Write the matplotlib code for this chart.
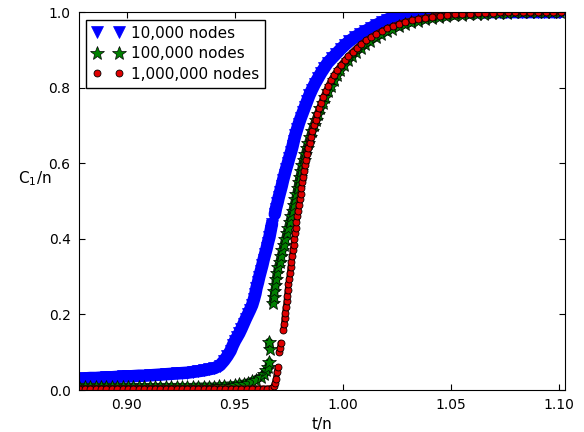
import numpy as np
import matplotlib
matplotlib.use('Agg')
import matplotlib.pyplot as plt

# values
x_10k = [0.8780, 0.8805, 0.8830, 0.8855, 0.8880, 0.8905, 0.8930, 0.8955, 0.8980, 0.9005,
         0.9030, 0.9055, 0.9080, 0.9105, 0.9130, 0.9155, 0.9180, 0.9205, 0.9230, 0.9255,
         0.9280, 0.9305, 0.9330, 0.9355, 0.9380, 0.9405,
         0.9430, 0.9450, 0.9465, 0.9480, 0.9490, 0.9500, 0.9510, 0.9520, 0.9530, 0.9540,
         0.9550, 0.9560, 0.9570, 0.9580, 0.9588, 0.9595, 0.9600, 0.9607, 0.9613, 0.9620,
         0.9627, 0.9633, 0.9640, 0.9647, 0.9653, 0.9660, 0.9665, 0.9670, 0.9672,
         0.9685, 0.9690, 0.9697, 0.9703, 0.9710, 0.9717, 0.9723, 0.9730, 0.9737,
         0.9745, 0.9752, 0.9760, 0.9767, 0.9773, 0.9780, 0.9788, 0.9796, 0.9805, 0.9815,
         0.9825, 0.9835, 0.9845, 0.9857, 0.9870, 0.9885, 0.9900, 0.9915, 0.9930, 0.9950,
         0.9970, 0.9990, 1.0010, 1.0030, 1.0055, 1.0080, 1.0105, 1.0130, 1.0155, 1.0180,
         1.0205, 1.0230, 1.0255, 1.0280, 1.0305,
         1.0330, 1.0355, 1.0380, 1.0405, 1.0430, 1.0455, 1.0480, 1.0505, 1.0530, 1.0555,
         1.0580, 1.0605, 1.0630, 1.0655, 1.0680, 1.0705, 1.0730, 1.0755, 1.0780, 1.0805,
         1.0830, 1.0855, 1.0880, 1.0905, 1.0930, 1.0955, 1.0980, 1.1005]
y_10k = [0.030, 0.031, 0.032, 0.032, 0.033, 0.034, 0.034, 0.035, 0.036, 0.036,
         0.037, 0.038, 0.038, 0.039, 0.040, 0.041, 0.042, 0.043, 0.044, 0.045,
         0.046, 0.048, 0.050, 0.052, 0.055, 0.058,
         0.065, 0.078, 0.090, 0.104, 0.118, 0.130, 0.140, 0.150, 0.162, 0.175,
         0.188, 0.200, 0.212, 0.225, 0.240, 0.255, 0.270, 0.285, 0.300, 0.315,
         0.330, 0.345, 0.360, 0.375, 0.390, 0.405, 0.420, 0.435, 0.440,
         0.465, 0.480, 0.495, 0.510, 0.525, 0.540, 0.555, 0.570, 0.585,
         0.600, 0.615, 0.630, 0.645, 0.660, 0.675, 0.690, 0.705, 0.720, 0.735,
         0.750, 0.765, 0.780, 0.795, 0.810, 0.825, 0.840, 0.853, 0.866, 0.878,
         0.890, 0.902, 0.913, 0.923, 0.933, 0.942, 0.950, 0.958, 0.966, 0.973,
         0.980, 0.986, 0.991, 0.995, 0.998,
         1.0, 1.0, 1.0, 1.0, 1.0, 1.0, 1.0, 1.0, 1.0, 1.0,
         1.0, 1.0, 1.0, 1.0, 1.0, 1.0, 1.0, 1.0, 1.0, 1.0,
         1.0, 1.0, 1.0, 1.0, 1.0, 1.0, 1.0, 1.0]

x_100k = [0.8780, 0.8805, 0.8830, 0.8855, 0.8880, 0.8905, 0.8930, 0.8955, 0.8980, 0.9005,
          0.9030, 0.9055, 0.9080, 0.9105, 0.9130, 0.9155, 0.9180, 0.9205, 0.9230, 0.9255,
          0.9280, 0.9305, 0.9330, 0.9355, 0.9380, 0.9405,
          0.9425, 0.9450, 0.9475, 0.9500, 0.9520, 0.9540, 0.9560, 0.9580, 0.9600, 0.9620,
          0.9635, 0.9645, 0.9655, 0.9660, 0.9662, 0.9658,
          0.9675, 0.9680, 0.9683, 0.9688, 0.9690, 0.9695, 0.9700, 0.9707, 0.9713, 0.9720,
          0.9727, 0.9733, 0.9740, 0.9747, 0.9753, 0.9760, 0.9767, 0.9773, 0.9780, 0.9785,
          0.9790, 0.9795, 0.9800, 0.9806, 0.9812, 0.9818, 0.9825, 0.9832, 0.9840, 0.9848,
          0.9856, 0.9865, 0.9874, 0.9884, 0.9895, 0.9906, 0.9918, 0.9930, 0.9943, 0.9957,
          0.9972, 0.9988, 1.0005, 1.0023, 1.0042, 1.0062, 1.0083, 1.0105, 1.0128, 1.0152,
          1.0177, 1.0203, 1.0230, 1.0258, 1.0287, 1.0317, 1.0348, 1.0380, 1.0412, 1.0445,
          1.0480, 1.0515, 1.0550, 1.0585, 1.0620, 1.0655, 1.0690, 1.0725, 1.0760, 1.0795,
          1.0830, 1.0865, 1.0900, 1.0935, 1.0970, 1.1005]
y_100k = [0.008, 0.008, 0.008, 0.008, 0.008, 0.008, 0.008, 0.008, 0.008, 0.008,
          0.008, 0.008, 0.008, 0.008, 0.008, 0.008, 0.008, 0.008, 0.008, 0.008,
          0.008, 0.008, 0.009, 0.009, 0.009, 0.009,
          0.010, 0.011, 0.012, 0.013, 0.015, 0.017, 0.020, 0.024, 0.028, 0.034,
          0.042, 0.052, 0.062, 0.074, 0.110, 0.127,
          0.230, 0.246, 0.262, 0.278, 0.295, 0.310, 0.325, 0.340, 0.355, 0.370,
          0.385, 0.400, 0.415, 0.430, 0.445, 0.460, 0.475, 0.490, 0.505, 0.520,
          0.535, 0.550, 0.565, 0.580, 0.595, 0.610, 0.625, 0.640, 0.655, 0.670,
          0.685, 0.700, 0.715, 0.730, 0.745, 0.760, 0.775, 0.790, 0.805, 0.820,
          0.834, 0.847, 0.860, 0.872, 0.884, 0.895, 0.905, 0.915, 0.924, 0.933,
          0.941, 0.949, 0.956, 0.962, 0.968, 0.973, 0.977, 0.981, 0.984, 0.987,
          0.989, 0.991, 0.993, 0.994, 0.995, 0.996, 0.997, 0.998, 0.998, 0.999,
          0.999, 1.0, 1.0, 1.0, 1.0, 1.0]

x_1m = [0.8780, 0.8805, 0.8830, 0.8855, 0.8880, 0.8905, 0.8930, 0.8955, 0.8980, 0.9005,
        0.9030, 0.9055, 0.9080, 0.9105, 0.9130, 0.9155, 0.9180, 0.9205, 0.9230, 0.9255,
        0.9280, 0.9305, 0.9330, 0.9355, 0.9380, 0.9405, 0.9430, 0.9455, 0.9480, 0.9505,
        0.9530, 0.9555, 0.9580, 0.9605, 0.9630, 0.9650,
        0.9670, 0.9680, 0.9685, 0.9690, 0.9695, 0.9698,
        0.9705, 0.9710, 0.9712,
        0.9725, 0.9728, 0.9730, 0.9733, 0.9736, 0.9740, 0.9742, 0.9745, 0.9748, 0.9752,
        0.9755, 0.9758, 0.9762, 0.9765, 0.9768, 0.9772, 0.9775, 0.9778, 0.9782, 0.9785,
        0.9789, 0.9792, 0.9796, 0.9800, 0.9804, 0.9808, 0.9812, 0.9816, 0.9820, 0.9825,
        0.9830, 0.9835, 0.9840, 0.9846, 0.9852, 0.9859, 0.9866, 0.9874, 0.9882, 0.9891,
        0.9900, 0.9910, 0.9921, 0.9933, 0.9946, 0.9960, 0.9975, 0.9991, 1.0008, 1.0026,
        1.0045, 1.0065, 1.0086, 1.0108, 1.0131, 1.0155, 1.0180, 1.0206, 1.0233, 1.0261,
        1.0290, 1.0320, 1.0350, 1.0382, 1.0415, 1.0449, 1.0484, 1.0519, 1.0554, 1.0589,
        1.0624, 1.0659, 1.0694, 1.0729, 1.0764, 1.0799, 1.0834, 1.0869, 1.0904, 1.0939,
        1.0974, 1.1009]
y_1m = [0.004, 0.004, 0.004, 0.004, 0.004, 0.004, 0.004, 0.004, 0.004, 0.004,
        0.004, 0.004, 0.004, 0.004, 0.004, 0.004, 0.004, 0.004, 0.004, 0.004,
        0.004, 0.004, 0.004, 0.004, 0.004, 0.004, 0.004, 0.004, 0.004, 0.004,
        0.004, 0.004, 0.004, 0.004, 0.004, 0.004,
        0.005, 0.010, 0.018, 0.030, 0.048, 0.060,
        0.100, 0.112, 0.125,
        0.160, 0.175, 0.190, 0.205, 0.220, 0.235, 0.250, 0.265, 0.280, 0.295,
        0.310, 0.325, 0.340, 0.355, 0.370, 0.385, 0.400, 0.415, 0.430, 0.445,
        0.460, 0.475, 0.490, 0.505, 0.520, 0.535, 0.550, 0.565, 0.580, 0.595,
        0.610, 0.625, 0.640, 0.655, 0.670, 0.685, 0.700, 0.715, 0.730, 0.745,
        0.760, 0.775, 0.790, 0.805, 0.820, 0.834, 0.847, 0.860, 0.872, 0.884,
        0.895, 0.906, 0.916, 0.925, 0.934, 0.942, 0.950, 0.957, 0.963, 0.969,
        0.974, 0.978, 0.982, 0.985, 0.988, 0.990, 0.992, 0.994, 0.995, 0.996,
        0.997, 0.998, 0.998, 0.999, 0.999, 1.0, 1.0, 1.0, 1.0, 1.0,
        1.0, 1.0]

labels = ['10,000 nodes', '100,000 nodes', '1,000,000 nodes']

fig = plt.figure(figsize=(5.84, 4.32), dpi=100)
ax = fig.add_axes([0.135, 0.097, 0.832, 0.875])


def band(x, y, color, lw, gap=0.02):
    # thick line under the markers so the dense point cloud reads as a solid band;
    # broken wherever the data jumps
    x = np.asarray(x)
    y = np.asarray(y)
    cuts = np.where(np.abs(np.diff(y)) > gap)[0] + 1
    for xs, ys in zip(np.split(x, cuts), np.split(y, cuts)):
        ax.plot(xs, ys, '-', color=color, lw=lw, solid_capstyle='round')


band(x_10k, y_10k, 'b', 9)
ax.plot(x_10k, y_10k, 'v', color='b', mec='b', ms=9, mew=0.5, label=labels[0])

band(x_100k, y_100k, '#0a300a', 6)
ax.plot(x_100k, y_100k, '*', color='#008000', mec='k', ms=10, mew=0.5, label=labels[1])

band(x_1m, y_1m, '#5a0000', 4.5)
ax.plot(x_1m, y_1m, 'o', color='#e00000', mec='k', ms=5, mew=0.6, label=labels[2])

ax.set_xlim(0.8777, 1.1028)
ax.set_ylim(0, 1.0)
ax.set_xticks([0.90, 0.95, 1.00, 1.05, 1.10])
ax.set_xticklabels(['0.90', '0.95', '1.00', '1.05', '1.10'])
ax.set_yticks([0.0, 0.2, 0.4, 0.6, 0.8, 1.0])
ax.set_yticklabels(['0.0', '0.2', '0.4', '0.6', '0.8', '1.0'])
ax.tick_params(direction='in', top=True, right=True, length=4, labelsize=10, pad=6)

ax.set_xlabel('t/n', fontsize=11)
ax.set_ylabel('C$_{1}$/n', fontsize=11, rotation=0)
ax.yaxis.set_label_coords(-0.09, 0.535)
ax.xaxis.set_label_coords(0.5, -0.07)

leg = ax.legend(loc='upper left', numpoints=2, fontsize=11, fancybox=False,
                edgecolor='k', framealpha=1, handletextpad=0.5, borderpad=0.4,
                labelspacing=0.35)
leg.get_frame().set_linewidth(1.0)

fig.savefig('out.png', dpi=100)
